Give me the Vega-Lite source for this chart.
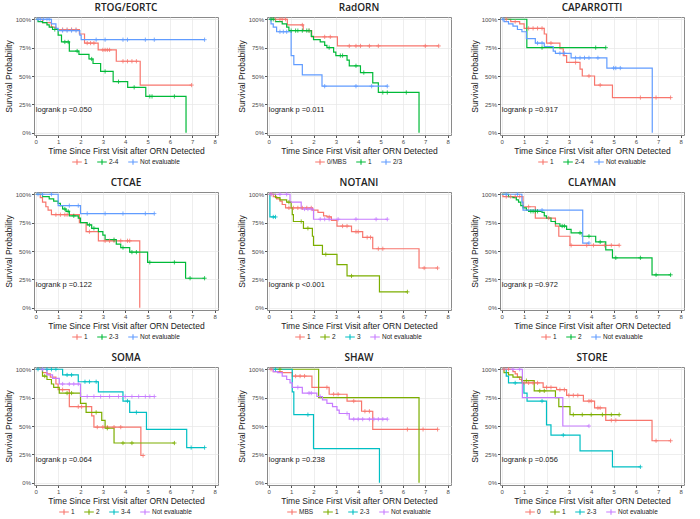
{
"$schema": "https://vega.github.io/schema/vega-lite/v6.json",
"padding": {"left": 3, "top": 2, "right": 2, "bottom": 0},
"spacing": 9,
"resolve": {"scale": {"color": "independent"}, "legend": {"color": "independent"}},
"datasets": {
"pv": [
{"p":1,"label":"logrank p =0.050"},{"p":2,"label":"logrank p =0.011"},{"p":3,"label":"logrank p =0.917"},
{"p":4,"label":"logrank p =0.122"},{"p":5,"label":"logrank p <0.001"},{"p":6,"label":"logrank p =0.972"},
{"p":7,"label":"logrank p =0.064"},{"p":8,"label":"logrank p =0.238"},{"p":9,"label":"logrank p =0.056"}
],
"km": [
{"p":1,"g":"1","t":0,"s":1},{"p":1,"g":"1","t":0.3,"s":0.97},{"p":1,"g":"1","t":0.7,"s":0.93},{"p":1,"g":"1","t":0.9,"s":0.91},{"p":1,"g":"1","t":1.2,"s":0.91,"c":1},{"p":1,"g":"1","t":1.4,"s":0.91,"c":1},{"p":1,"g":"1","t":1.6,"s":0.91,"c":1},{"p":1,"g":"1","t":1.8,"s":0.91,"c":1},{"p":1,"g":"1","t":1.95,"s":0.87},{"p":1,"g":"1","t":2.18,"s":0.79},{"p":1,"g":"1","t":2.3,"s":0.79,"c":1},{"p":1,"g":"1","t":2.45,"s":0.79,"c":1},{"p":1,"g":"1","t":2.6,"s":0.79,"c":1},{"p":1,"g":"1","t":2.79,"s":0.73},{"p":1,"g":"1","t":3.0,"s":0.73,"c":1},{"p":1,"g":"1","t":3.1,"s":0.73,"c":1},{"p":1,"g":"1","t":3.2,"s":0.73,"c":1},{"p":1,"g":"1","t":3.3,"s":0.73,"c":1},{"p":1,"g":"1","t":3.6,"s":0.63},{"p":1,"g":"1","t":3.9,"s":0.63,"c":1},{"p":1,"g":"1","t":4.1,"s":0.63,"c":1},{"p":1,"g":"1","t":4.3,"s":0.63,"c":1},{"p":1,"g":"1","t":4.5,"s":0.63,"c":1},{"p":1,"g":"1","t":4.67,"s":0.42},{"p":1,"g":"1","t":6.97,"s":0.42,"c":1},
{"p":1,"g":"2-4","t":0,"s":1},{"p":1,"g":"2-4","t":0.1,"s":0.98},{"p":1,"g":"2-4","t":0.3,"s":0.97},{"p":1,"g":"2-4","t":0.5,"s":0.95},{"p":1,"g":"2-4","t":0.6,"s":0.93},{"p":1,"g":"2-4","t":0.75,"s":0.91},{"p":1,"g":"2-4","t":0.85,"s":0.91,"c":1},{"p":1,"g":"2-4","t":1.0,"s":0.86},{"p":1,"g":"2-4","t":1.15,"s":0.8},{"p":1,"g":"2-4","t":1.3,"s":0.8,"c":1},{"p":1,"g":"2-4","t":1.45,"s":0.8,"c":1},{"p":1,"g":"2-4","t":1.5,"s":0.72},{"p":1,"g":"2-4","t":1.85,"s":0.72,"c":1},{"p":1,"g":"2-4","t":1.93,"s":0.69},{"p":1,"g":"2-4","t":2.38,"s":0.65},{"p":1,"g":"2-4","t":2.5,"s":0.65,"c":1},{"p":1,"g":"2-4","t":2.56,"s":0.61},{"p":1,"g":"2-4","t":2.9,"s":0.54},{"p":1,"g":"2-4","t":3.1,"s":0.54,"c":1},{"p":1,"g":"2-4","t":3.46,"s":0.45},{"p":1,"g":"2-4","t":3.7,"s":0.45,"c":1},{"p":1,"g":"2-4","t":4.11,"s":0.4},{"p":1,"g":"2-4","t":4.4,"s":0.4,"c":1},{"p":1,"g":"2-4","t":4.92,"s":0.32},{"p":1,"g":"2-4","t":5.1,"s":0.32,"c":1},{"p":1,"g":"2-4","t":5.2,"s":0.32,"c":1},{"p":1,"g":"2-4","t":6.2,"s":0.32,"c":1},{"p":1,"g":"2-4","t":6.72,"s":0},
{"p":1,"g":"Not evaluable","t":0,"s":1},{"p":1,"g":"Not evaluable","t":0.1,"s":1,"c":1},{"p":1,"g":"Not evaluable","t":0.2,"s":1,"c":1},{"p":1,"g":"Not evaluable","t":0.35,"s":1,"c":1},{"p":1,"g":"Not evaluable","t":0.5,"s":1,"c":1},{"p":1,"g":"Not evaluable","t":0.6,"s":1,"c":1},{"p":1,"g":"Not evaluable","t":0.7,"s":0.96},{"p":1,"g":"Not evaluable","t":0.9,"s":0.92},{"p":1,"g":"Not evaluable","t":1.0,"s":0.9},{"p":1,"g":"Not evaluable","t":1.2,"s":0.9,"c":1},{"p":1,"g":"Not evaluable","t":1.4,"s":0.9,"c":1},{"p":1,"g":"Not evaluable","t":1.6,"s":0.9,"c":1},{"p":1,"g":"Not evaluable","t":1.8,"s":0.9,"c":1},{"p":1,"g":"Not evaluable","t":1.97,"s":0.86},{"p":1,"g":"Not evaluable","t":2.03,"s":0.82},{"p":1,"g":"Not evaluable","t":2.7,"s":0.82,"c":1},{"p":1,"g":"Not evaluable","t":3.1,"s":0.82,"c":1},{"p":1,"g":"Not evaluable","t":3.9,"s":0.82,"c":1},{"p":1,"g":"Not evaluable","t":4.1,"s":0.82,"c":1},{"p":1,"g":"Not evaluable","t":4.9,"s":0.82,"c":1},{"p":1,"g":"Not evaluable","t":5.3,"s":0.82,"c":1},{"p":1,"g":"Not evaluable","t":7.55,"s":0.82,"c":1},

{"p":2,"g":"0/MBS","t":0,"s":1},{"p":2,"g":"0/MBS","t":0.3,"s":1,"c":1},{"p":2,"g":"0/MBS","t":0.5,"s":1,"c":1},{"p":2,"g":"0/MBS","t":0.6,"s":1,"c":1},{"p":2,"g":"0/MBS","t":0.75,"s":1,"c":1},{"p":2,"g":"0/MBS","t":0.83,"s":0.95},{"p":2,"g":"0/MBS","t":1.5,"s":0.95,"c":1},{"p":2,"g":"0/MBS","t":1.54,"s":0.9},{"p":2,"g":"0/MBS","t":1.8,"s":0.9,"c":1},{"p":2,"g":"0/MBS","t":1.92,"s":0.845},{"p":2,"g":"0/MBS","t":2.5,"s":0.845,"c":1},{"p":2,"g":"0/MBS","t":2.75,"s":0.845,"c":1},{"p":2,"g":"0/MBS","t":3.07,"s":0.765},{"p":2,"g":"0/MBS","t":3.6,"s":0.765,"c":1},{"p":2,"g":"0/MBS","t":3.9,"s":0.765,"c":1},{"p":2,"g":"0/MBS","t":4.1,"s":0.765,"c":1},{"p":2,"g":"0/MBS","t":4.5,"s":0.765,"c":1},{"p":2,"g":"0/MBS","t":4.9,"s":0.765,"c":1},{"p":2,"g":"0/MBS","t":7.0,"s":0.765,"c":1},{"p":2,"g":"0/MBS","t":7.6,"s":0.765,"c":1},
{"p":2,"g":"1","t":0,"s":1},{"p":2,"g":"1","t":0.1,"s":1,"c":1},{"p":2,"g":"1","t":0.2,"s":1,"c":1},{"p":2,"g":"1","t":0.3,"s":0.98},{"p":2,"g":"1","t":0.6,"s":0.96},{"p":2,"g":"1","t":0.8,"s":0.93},{"p":2,"g":"1","t":0.9,"s":0.9},{"p":2,"g":"1","t":1.0,"s":0.9,"c":1},{"p":2,"g":"1","t":1.2,"s":0.9,"c":1},{"p":2,"g":"1","t":1.3,"s":0.9,"c":1},{"p":2,"g":"1","t":1.5,"s":0.9,"c":1},{"p":2,"g":"1","t":1.7,"s":0.9,"c":1},{"p":2,"g":"1","t":1.8,"s":0.9,"c":1},{"p":2,"g":"1","t":1.9,"s":0.85},{"p":2,"g":"1","t":2.0,"s":0.82},{"p":2,"g":"1","t":2.3,"s":0.8},{"p":2,"g":"1","t":2.5,"s":0.77},{"p":2,"g":"1","t":2.6,"s":0.75},{"p":2,"g":"1","t":2.7,"s":0.75,"c":1},{"p":2,"g":"1","t":2.9,"s":0.71},{"p":2,"g":"1","t":3.0,"s":0.68},{"p":2,"g":"1","t":3.2,"s":0.68,"c":1},{"p":2,"g":"1","t":3.3,"s":0.68,"c":1},{"p":2,"g":"1","t":3.5,"s":0.64},{"p":2,"g":"1","t":3.6,"s":0.59},{"p":2,"g":"1","t":3.9,"s":0.59,"c":1},{"p":2,"g":"1","t":4.1,"s":0.53},{"p":2,"g":"1","t":4.25,"s":0.53,"c":1},{"p":2,"g":"1","t":4.65,"s":0.44},{"p":2,"g":"1","t":4.9,"s":0.355},{"p":2,"g":"1","t":5.1,"s":0.355,"c":1},{"p":2,"g":"1","t":5.3,"s":0.355,"c":1},{"p":2,"g":"1","t":6.15,"s":0.355,"c":1},{"p":2,"g":"1","t":6.72,"s":0},
{"p":2,"g":"2/3","t":0,"s":1},{"p":2,"g":"2/3","t":0.1,"s":0.96},{"p":2,"g":"2/3","t":0.2,"s":0.93},{"p":2,"g":"2/3","t":0.35,"s":0.89},{"p":2,"g":"2/3","t":0.5,"s":0.89,"c":1},{"p":2,"g":"2/3","t":0.65,"s":0.89,"c":1},{"p":2,"g":"2/3","t":0.8,"s":0.89,"c":1},{"p":2,"g":"2/3","t":1.0,"s":0.68},{"p":2,"g":"2/3","t":1.12,"s":0.6},{"p":2,"g":"2/3","t":1.5,"s":0.51},{"p":2,"g":"2/3","t":2.38,"s":0.41},{"p":2,"g":"2/3","t":2.5,"s":0.41,"c":1},{"p":2,"g":"2/3","t":3.9,"s":0.41,"c":1},{"p":2,"g":"2/3","t":4.6,"s":0.41,"c":1},{"p":2,"g":"2/3","t":5.3,"s":0.41,"c":1},

{"p":3,"g":"1","t":0,"s":1},{"p":3,"g":"1","t":0.2,"s":1,"c":1},{"p":3,"g":"1","t":0.4,"s":0.98},{"p":3,"g":"1","t":0.6,"s":0.98,"c":1},{"p":3,"g":"1","t":0.8,"s":0.96},{"p":3,"g":"1","t":1.0,"s":0.92},{"p":3,"g":"1","t":1.2,"s":0.92,"c":1},{"p":3,"g":"1","t":1.4,"s":0.92,"c":1},{"p":3,"g":"1","t":1.6,"s":0.92,"c":1},{"p":3,"g":"1","t":1.8,"s":0.92,"c":1},{"p":3,"g":"1","t":1.9,"s":0.87},{"p":3,"g":"1","t":2.0,"s":0.79},{"p":3,"g":"1","t":2.2,"s":0.79,"c":1},{"p":3,"g":"1","t":2.6,"s":0.74},{"p":3,"g":"1","t":2.75,"s":0.68},{"p":3,"g":"1","t":2.9,"s":0.62},{"p":3,"g":"1","t":3.3,"s":0.62,"c":1},{"p":3,"g":"1","t":3.5,"s":0.56},{"p":3,"g":"1","t":3.6,"s":0.5},{"p":3,"g":"1","t":3.9,"s":0.5,"c":1},{"p":3,"g":"1","t":4.15,"s":0.42},{"p":3,"g":"1","t":4.4,"s":0.42,"c":1},{"p":3,"g":"1","t":4.95,"s":0.31},{"p":3,"g":"1","t":6.2,"s":0.31,"c":1},{"p":3,"g":"1","t":6.9,"s":0.31,"c":1},{"p":3,"g":"1","t":7.55,"s":0.31,"c":1},
{"p":3,"g":"2-4","t":0,"s":1},{"p":3,"g":"2-4","t":1.12,"s":0.75},{"p":3,"g":"2-4","t":1.8,"s":0.75,"c":1},{"p":3,"g":"2-4","t":4.2,"s":0.75,"c":1},{"p":3,"g":"2-4","t":4.65,"s":0.75,"c":1},
{"p":3,"g":"Not evaluable","t":0,"s":1},{"p":3,"g":"Not evaluable","t":0.05,"s":1,"c":1},{"p":3,"g":"Not evaluable","t":0.1,"s":0.98},{"p":3,"g":"Not evaluable","t":0.3,"s":0.96},{"p":3,"g":"Not evaluable","t":0.5,"s":0.94},{"p":3,"g":"Not evaluable","t":0.7,"s":0.91},{"p":3,"g":"Not evaluable","t":0.9,"s":0.89},{"p":3,"g":"Not evaluable","t":1.1,"s":0.83},{"p":3,"g":"Not evaluable","t":1.5,"s":0.79},{"p":3,"g":"Not evaluable","t":1.6,"s":0.79,"c":1},{"p":3,"g":"Not evaluable","t":1.8,"s":0.79,"c":1},{"p":3,"g":"Not evaluable","t":1.9,"s":0.76},{"p":3,"g":"Not evaluable","t":2.3,"s":0.72},{"p":3,"g":"Not evaluable","t":2.4,"s":0.7},{"p":3,"g":"Not evaluable","t":2.6,"s":0.7,"c":1},{"p":3,"g":"Not evaluable","t":2.8,"s":0.7,"c":1},{"p":3,"g":"Not evaluable","t":3.1,"s":0.66},{"p":3,"g":"Not evaluable","t":3.3,"s":0.66,"c":1},{"p":3,"g":"Not evaluable","t":3.5,"s":0.66,"c":1},{"p":3,"g":"Not evaluable","t":3.7,"s":0.66,"c":1},{"p":3,"g":"Not evaluable","t":3.9,"s":0.66,"c":1},{"p":3,"g":"Not evaluable","t":4.3,"s":0.66,"c":1},{"p":3,"g":"Not evaluable","t":4.7,"s":0.57},{"p":3,"g":"Not evaluable","t":5.0,"s":0.57,"c":1},{"p":3,"g":"Not evaluable","t":5.1,"s":0.57,"c":1},{"p":3,"g":"Not evaluable","t":5.3,"s":0.57,"c":1},{"p":3,"g":"Not evaluable","t":6.73,"s":0},

{"p":4,"g":"1","t":0,"s":1},{"p":4,"g":"1","t":0.2,"s":0.97},{"p":4,"g":"1","t":0.3,"s":0.93},{"p":4,"g":"1","t":0.45,"s":0.89},{"p":4,"g":"1","t":0.55,"s":0.86},{"p":4,"g":"1","t":0.7,"s":0.82},{"p":4,"g":"1","t":0.9,"s":0.82,"c":1},{"p":4,"g":"1","t":1.1,"s":0.82,"c":1},{"p":4,"g":"1","t":1.3,"s":0.82,"c":1},{"p":4,"g":"1","t":1.4,"s":0.82,"c":1},{"p":4,"g":"1","t":1.95,"s":0.75},{"p":4,"g":"1","t":2.25,"s":0.67},{"p":4,"g":"1","t":2.4,"s":0.67,"c":1},{"p":4,"g":"1","t":2.8,"s":0.59},{"p":4,"g":"1","t":3.1,"s":0.59,"c":1},{"p":4,"g":"1","t":3.3,"s":0.59,"c":1},{"p":4,"g":"1","t":3.5,"s":0.59,"c":1},{"p":4,"g":"1","t":3.8,"s":0.59,"c":1},{"p":4,"g":"1","t":4.1,"s":0.59,"c":1},{"p":4,"g":"1","t":4.2,"s":0.59,"c":1},{"p":4,"g":"1","t":4.65,"s":0},
{"p":4,"g":"2-3","t":0,"s":1},{"p":4,"g":"2-3","t":0.3,"s":0.98},{"p":4,"g":"2-3","t":0.6,"s":0.96},{"p":4,"g":"2-3","t":0.8,"s":0.94},{"p":4,"g":"2-3","t":1.0,"s":0.92},{"p":4,"g":"2-3","t":1.1,"s":0.9},{"p":4,"g":"2-3","t":1.2,"s":0.87},{"p":4,"g":"2-3","t":1.3,"s":0.87,"c":1},{"p":4,"g":"2-3","t":1.35,"s":0.85},{"p":4,"g":"2-3","t":1.45,"s":0.85,"c":1},{"p":4,"g":"2-3","t":1.5,"s":0.81},{"p":4,"g":"2-3","t":1.7,"s":0.81,"c":1},{"p":4,"g":"2-3","t":1.9,"s":0.79},{"p":4,"g":"2-3","t":2.0,"s":0.75},{"p":4,"g":"2-3","t":2.3,"s":0.73},{"p":4,"g":"2-3","t":2.4,"s":0.73,"c":1},{"p":4,"g":"2-3","t":2.5,"s":0.7},{"p":4,"g":"2-3","t":2.6,"s":0.7,"c":1},{"p":4,"g":"2-3","t":2.8,"s":0.67},{"p":4,"g":"2-3","t":3.0,"s":0.64},{"p":4,"g":"2-3","t":3.1,"s":0.6},{"p":4,"g":"2-3","t":3.5,"s":0.6,"c":1},{"p":4,"g":"2-3","t":3.6,"s":0.56},{"p":4,"g":"2-3","t":3.8,"s":0.53},{"p":4,"g":"2-3","t":3.9,"s":0.53,"c":1},{"p":4,"g":"2-3","t":4.2,"s":0.49},{"p":4,"g":"2-3","t":4.3,"s":0.49,"c":1},{"p":4,"g":"2-3","t":4.5,"s":0.49,"c":1},{"p":4,"g":"2-3","t":5.0,"s":0.4},{"p":4,"g":"2-3","t":5.1,"s":0.4,"c":1},{"p":4,"g":"2-3","t":6.2,"s":0.4,"c":1},{"p":4,"g":"2-3","t":6.7,"s":0.26},{"p":4,"g":"2-3","t":6.9,"s":0.26,"c":1},{"p":4,"g":"2-3","t":7.55,"s":0.26,"c":1},
{"p":4,"g":"Not evaluable","t":0,"s":1},{"p":4,"g":"Not evaluable","t":0.1,"s":1,"c":1},{"p":4,"g":"Not evaluable","t":0.3,"s":1,"c":1},{"p":4,"g":"Not evaluable","t":0.7,"s":1,"c":1},{"p":4,"g":"Not evaluable","t":1.0,"s":0.9},{"p":4,"g":"Not evaluable","t":1.5,"s":0.9,"c":1},{"p":4,"g":"Not evaluable","t":1.9,"s":0.9,"c":1},{"p":4,"g":"Not evaluable","t":2.0,"s":0.83},{"p":4,"g":"Not evaluable","t":2.3,"s":0.83,"c":1},{"p":4,"g":"Not evaluable","t":3.1,"s":0.83,"c":1},{"p":4,"g":"Not evaluable","t":3.9,"s":0.83,"c":1},{"p":4,"g":"Not evaluable","t":4.9,"s":0.83,"c":1},{"p":4,"g":"Not evaluable","t":5.3,"s":0.83,"c":1},

{"p":5,"g":"1","t":0,"s":1},{"p":5,"g":"1","t":0.1,"s":1,"c":1},{"p":5,"g":"1","t":0.2,"s":0.98},{"p":5,"g":"1","t":0.35,"s":0.96},{"p":5,"g":"1","t":0.5,"s":0.94},{"p":5,"g":"1","t":0.6,"s":0.91},{"p":5,"g":"1","t":0.75,"s":0.88},{"p":5,"g":"1","t":0.9,"s":0.88,"c":1},{"p":5,"g":"1","t":1.1,"s":0.88,"c":1},{"p":5,"g":"1","t":1.3,"s":0.88,"c":1},{"p":5,"g":"1","t":1.5,"s":0.88,"c":1},{"p":5,"g":"1","t":1.7,"s":0.88,"c":1},{"p":5,"g":"1","t":1.9,"s":0.88,"c":1},{"p":5,"g":"1","t":1.95,"s":0.86},{"p":5,"g":"1","t":2.2,"s":0.84},{"p":5,"g":"1","t":2.45,"s":0.81},{"p":5,"g":"1","t":2.6,"s":0.8},{"p":5,"g":"1","t":2.7,"s":0.8,"c":1},{"p":5,"g":"1","t":2.8,"s":0.77},{"p":5,"g":"1","t":3.05,"s":0.72},{"p":5,"g":"1","t":3.3,"s":0.72,"c":1},{"p":5,"g":"1","t":3.5,"s":0.72,"c":1},{"p":5,"g":"1","t":3.7,"s":0.67},{"p":5,"g":"1","t":3.9,"s":0.67,"c":1},{"p":5,"g":"1","t":4.0,"s":0.67,"c":1},{"p":5,"g":"1","t":4.2,"s":0.62},{"p":5,"g":"1","t":4.4,"s":0.62,"c":1},{"p":5,"g":"1","t":4.55,"s":0.62,"c":1},{"p":5,"g":"1","t":4.65,"s":0.52},{"p":5,"g":"1","t":4.9,"s":0.52,"c":1},{"p":5,"g":"1","t":5.1,"s":0.52,"c":1},{"p":5,"g":"1","t":6.72,"s":0.35},{"p":5,"g":"1","t":6.95,"s":0.35,"c":1},{"p":5,"g":"1","t":7.55,"s":0.35,"c":1},
{"p":5,"g":"2","t":0,"s":1},{"p":5,"g":"2","t":0.3,"s":0.97},{"p":5,"g":"2","t":0.5,"s":0.95},{"p":5,"g":"2","t":0.8,"s":0.93},{"p":5,"g":"2","t":0.9,"s":0.93,"c":1},{"p":5,"g":"2","t":1.0,"s":0.88},{"p":5,"g":"2","t":1.05,"s":0.82},{"p":5,"g":"2","t":1.1,"s":0.76},{"p":5,"g":"2","t":1.45,"s":0.76,"c":1},{"p":5,"g":"2","t":1.55,"s":0.7},{"p":5,"g":"2","t":1.75,"s":0.7,"c":1},{"p":5,"g":"2","t":1.95,"s":0.63},{"p":5,"g":"2","t":2.0,"s":0.55},{"p":5,"g":"2","t":2.4,"s":0.47},{"p":5,"g":"2","t":2.55,"s":0.47,"c":1},{"p":5,"g":"2","t":3.05,"s":0.38},{"p":5,"g":"2","t":3.5,"s":0.28},{"p":5,"g":"2","t":3.7,"s":0.28,"c":1},{"p":5,"g":"2","t":4.95,"s":0.14},{"p":5,"g":"2","t":6.2,"s":0.14,"c":1},
{"p":5,"g":"3","t":0,"s":1},{"p":5,"g":"3","t":0.05,"s":0.8},{"p":5,"g":"3","t":0.2,"s":0.8,"c":1},{"p":5,"g":"3","t":0.3,"s":0.8,"c":1},
{"p":5,"g":"Not evaluable","t":0,"s":1},{"p":5,"g":"Not evaluable","t":0.1,"s":1,"c":1},{"p":5,"g":"Not evaluable","t":0.5,"s":1,"c":1},{"p":5,"g":"Not evaluable","t":0.8,"s":1,"c":1},{"p":5,"g":"Not evaluable","t":0.95,"s":0.93},{"p":5,"g":"Not evaluable","t":1.45,"s":0.87},{"p":5,"g":"Not evaluable","t":1.6,"s":0.87,"c":1},{"p":5,"g":"Not evaluable","t":1.75,"s":0.87,"c":1},{"p":5,"g":"Not evaluable","t":1.9,"s":0.87,"c":1},{"p":5,"g":"Not evaluable","t":2.0,"s":0.78},{"p":5,"g":"Not evaluable","t":2.3,"s":0.78,"c":1},{"p":5,"g":"Not evaluable","t":2.5,"s":0.78,"c":1},{"p":5,"g":"Not evaluable","t":2.7,"s":0.78,"c":1},{"p":5,"g":"Not evaluable","t":3.1,"s":0.78,"c":1},{"p":5,"g":"Not evaluable","t":3.9,"s":0.78,"c":1},{"p":5,"g":"Not evaluable","t":4.8,"s":0.78,"c":1},{"p":5,"g":"Not evaluable","t":5.3,"s":0.78,"c":1},

{"p":6,"g":"1","t":0,"s":1},{"p":6,"g":"1","t":0.05,"s":0.98},{"p":6,"g":"1","t":0.2,"s":0.98,"c":1},{"p":6,"g":"1","t":0.4,"s":0.98,"c":1},{"p":6,"g":"1","t":0.6,"s":0.98,"c":1},{"p":6,"g":"1","t":0.8,"s":0.98,"c":1},{"p":6,"g":"1","t":0.95,"s":0.89},{"p":6,"g":"1","t":1.2,"s":0.89,"c":1},{"p":6,"g":"1","t":1.5,"s":0.79},{"p":6,"g":"1","t":2.1,"s":0.79,"c":1},{"p":6,"g":"1","t":2.4,"s":0.72},{"p":6,"g":"1","t":2.55,"s":0.63},{"p":6,"g":"1","t":3.05,"s":0.55},{"p":6,"g":"1","t":3.1,"s":0.55,"c":1},{"p":6,"g":"1","t":3.8,"s":0.55,"c":1},{"p":6,"g":"1","t":4.1,"s":0.55,"c":1},{"p":6,"g":"1","t":4.6,"s":0.55,"c":1},{"p":6,"g":"1","t":4.9,"s":0.55,"c":1},{"p":6,"g":"1","t":5.25,"s":0.55,"c":1},
{"p":6,"g":"2","t":0,"s":1},{"p":6,"g":"2","t":0.3,"s":0.98},{"p":6,"g":"2","t":0.5,"s":0.97},{"p":6,"g":"2","t":0.65,"s":0.95},{"p":6,"g":"2","t":0.75,"s":0.93},{"p":6,"g":"2","t":0.85,"s":0.9},{"p":6,"g":"2","t":0.95,"s":0.88},{"p":6,"g":"2","t":1.1,"s":0.86},{"p":6,"g":"2","t":1.2,"s":0.85},{"p":6,"g":"2","t":1.3,"s":0.85,"c":1},{"p":6,"g":"2","t":1.4,"s":0.85,"c":1},{"p":6,"g":"2","t":1.5,"s":0.85,"c":1},{"p":6,"g":"2","t":1.6,"s":0.85,"c":1},{"p":6,"g":"2","t":1.8,"s":0.84},{"p":6,"g":"2","t":1.9,"s":0.81},{"p":6,"g":"2","t":2.0,"s":0.79},{"p":6,"g":"2","t":2.2,"s":0.76},{"p":6,"g":"2","t":2.4,"s":0.74},{"p":6,"g":"2","t":2.6,"s":0.72},{"p":6,"g":"2","t":2.7,"s":0.72,"c":1},{"p":6,"g":"2","t":2.8,"s":0.72,"c":1},{"p":6,"g":"2","t":2.9,"s":0.69},{"p":6,"g":"2","t":3.1,"s":0.66},{"p":6,"g":"2","t":3.5,"s":0.66,"c":1},{"p":6,"g":"2","t":3.6,"s":0.63},{"p":6,"g":"2","t":3.9,"s":0.63,"c":1},{"p":6,"g":"2","t":4.2,"s":0.58},{"p":6,"g":"2","t":4.4,"s":0.58,"c":1},{"p":6,"g":"2","t":4.65,"s":0.51},{"p":6,"g":"2","t":4.95,"s":0.44},{"p":6,"g":"2","t":5.1,"s":0.44,"c":1},{"p":6,"g":"2","t":6.2,"s":0.44,"c":1},{"p":6,"g":"2","t":6.72,"s":0.29},{"p":6,"g":"2","t":6.9,"s":0.29,"c":1},{"p":6,"g":"2","t":7.55,"s":0.29,"c":1},
{"p":6,"g":"Not evaluable","t":0,"s":1},{"p":6,"g":"Not evaluable","t":0.2,"s":1,"c":1},{"p":6,"g":"Not evaluable","t":0.7,"s":1,"c":1},{"p":6,"g":"Not evaluable","t":0.9,"s":0.93},{"p":6,"g":"Not evaluable","t":0.95,"s":0.86},{"p":6,"g":"Not evaluable","t":1.8,"s":0.86,"c":1},{"p":6,"g":"Not evaluable","t":3.62,"s":0.57},{"p":6,"g":"Not evaluable","t":3.9,"s":0.57,"c":1},

{"p":7,"g":"1","t":0,"s":1},{"p":7,"g":"1","t":0.3,"s":0.97},{"p":7,"g":"1","t":0.5,"s":0.96},{"p":7,"g":"1","t":0.65,"s":0.93},{"p":7,"g":"1","t":0.9,"s":0.87},{"p":7,"g":"1","t":1.0,"s":0.82},{"p":7,"g":"1","t":1.2,"s":0.82,"c":1},{"p":7,"g":"1","t":1.5,"s":0.67},{"p":7,"g":"1","t":1.9,"s":0.67,"c":1},{"p":7,"g":"1","t":2.05,"s":0.67,"c":1},{"p":7,"g":"1","t":2.5,"s":0.59},{"p":7,"g":"1","t":2.6,"s":0.49},{"p":7,"g":"1","t":2.75,"s":0.49,"c":1},{"p":7,"g":"1","t":3.0,"s":0.49,"c":1},{"p":7,"g":"1","t":3.2,"s":0.49,"c":1},{"p":7,"g":"1","t":3.5,"s":0.49,"c":1},{"p":7,"g":"1","t":3.8,"s":0.49,"c":1},{"p":7,"g":"1","t":4.7,"s":0.24},{"p":7,"g":"1","t":4.8,"s":0.24,"c":1},
{"p":7,"g":"2","t":0,"s":1},{"p":7,"g":"2","t":0.3,"s":0.94},{"p":7,"g":"2","t":0.4,"s":0.94,"c":1},{"p":7,"g":"2","t":0.5,"s":0.91},{"p":7,"g":"2","t":0.7,"s":0.87},{"p":7,"g":"2","t":0.8,"s":0.84},{"p":7,"g":"2","t":1.05,"s":0.79},{"p":7,"g":"2","t":1.4,"s":0.79,"c":1},{"p":7,"g":"2","t":1.6,"s":0.79,"c":1},{"p":7,"g":"2","t":2.0,"s":0.7},{"p":7,"g":"2","t":2.25,"s":0.62},{"p":7,"g":"2","t":2.7,"s":0.62,"c":1},{"p":7,"g":"2","t":2.95,"s":0.55},{"p":7,"g":"2","t":3.1,"s":0.48},{"p":7,"g":"2","t":3.2,"s":0.48,"c":1},{"p":7,"g":"2","t":3.5,"s":0.35},{"p":7,"g":"2","t":3.9,"s":0.35,"c":1},{"p":7,"g":"2","t":4.3,"s":0.35,"c":1},{"p":7,"g":"2","t":6.2,"s":0.35,"c":1},
{"p":7,"g":"3-4","t":0,"s":1},{"p":7,"g":"3-4","t":0.1,"s":1,"c":1},{"p":7,"g":"3-4","t":0.3,"s":1,"c":1},{"p":7,"g":"3-4","t":0.5,"s":1,"c":1},{"p":7,"g":"3-4","t":0.7,"s":1,"c":1},{"p":7,"g":"3-4","t":0.9,"s":1,"c":1},{"p":7,"g":"3-4","t":1.2,"s":0.95},{"p":7,"g":"3-4","t":1.4,"s":0.95,"c":1},{"p":7,"g":"3-4","t":1.6,"s":0.95,"c":1},{"p":7,"g":"3-4","t":1.9,"s":0.89},{"p":7,"g":"3-4","t":2.2,"s":0.89,"c":1},{"p":7,"g":"3-4","t":2.4,"s":0.89,"c":1},{"p":7,"g":"3-4","t":2.7,"s":0.89,"c":1},{"p":7,"g":"3-4","t":2.8,"s":0.8},{"p":7,"g":"3-4","t":3.9,"s":0.72},{"p":7,"g":"3-4","t":4.1,"s":0.72,"c":1},{"p":7,"g":"3-4","t":4.2,"s":0.62},{"p":7,"g":"3-4","t":4.5,"s":0.62,"c":1},{"p":7,"g":"3-4","t":4.95,"s":0.47},{"p":7,"g":"3-4","t":6.75,"s":0.31},{"p":7,"g":"3-4","t":6.95,"s":0.31,"c":1},{"p":7,"g":"3-4","t":7.55,"s":0.31,"c":1},
{"p":7,"g":"Not evaluable","t":0,"s":1},{"p":7,"g":"Not evaluable","t":0.3,"s":1,"c":1},{"p":7,"g":"Not evaluable","t":0.5,"s":0.95},{"p":7,"g":"Not evaluable","t":0.75,"s":0.92},{"p":7,"g":"Not evaluable","t":1.05,"s":0.87},{"p":7,"g":"Not evaluable","t":1.2,"s":0.87,"c":1},{"p":7,"g":"Not evaluable","t":1.5,"s":0.87,"c":1},{"p":7,"g":"Not evaluable","t":1.7,"s":0.87,"c":1},{"p":7,"g":"Not evaluable","t":1.9,"s":0.87,"c":1},{"p":7,"g":"Not evaluable","t":2.0,"s":0.76},{"p":7,"g":"Not evaluable","t":2.3,"s":0.76,"c":1},{"p":7,"g":"Not evaluable","t":2.6,"s":0.76,"c":1},{"p":7,"g":"Not evaluable","t":2.9,"s":0.76,"c":1},{"p":7,"g":"Not evaluable","t":3.3,"s":0.76,"c":1},{"p":7,"g":"Not evaluable","t":3.7,"s":0.76,"c":1},{"p":7,"g":"Not evaluable","t":4.0,"s":0.76,"c":1},{"p":7,"g":"Not evaluable","t":4.3,"s":0.76,"c":1},{"p":7,"g":"Not evaluable","t":4.6,"s":0.76,"c":1},{"p":7,"g":"Not evaluable","t":4.9,"s":0.76,"c":1},{"p":7,"g":"Not evaluable","t":5.1,"s":0.76,"c":1},{"p":7,"g":"Not evaluable","t":5.3,"s":0.76,"c":1},

{"p":8,"g":"MBS","t":0,"s":1},{"p":8,"g":"MBS","t":0.1,"s":1,"c":1},{"p":8,"g":"MBS","t":0.2,"s":0.98},{"p":8,"g":"MBS","t":0.6,"s":0.97},{"p":8,"g":"MBS","t":1.05,"s":0.94},{"p":8,"g":"MBS","t":1.2,"s":0.94,"c":1},{"p":8,"g":"MBS","t":1.4,"s":0.94,"c":1},{"p":8,"g":"MBS","t":1.6,"s":0.94,"c":1},{"p":8,"g":"MBS","t":1.93,"s":0.84},{"p":8,"g":"MBS","t":2.6,"s":0.84,"c":1},{"p":8,"g":"MBS","t":2.7,"s":0.78},{"p":8,"g":"MBS","t":2.9,"s":0.78,"c":1},{"p":8,"g":"MBS","t":3.1,"s":0.78,"c":1},{"p":8,"g":"MBS","t":3.5,"s":0.72},{"p":8,"g":"MBS","t":3.8,"s":0.72,"c":1},{"p":8,"g":"MBS","t":4.15,"s":0.63},{"p":8,"g":"MBS","t":4.3,"s":0.63,"c":1},{"p":8,"g":"MBS","t":4.5,"s":0.63,"c":1},{"p":8,"g":"MBS","t":4.65,"s":0.47},{"p":8,"g":"MBS","t":6.2,"s":0.47,"c":1},{"p":8,"g":"MBS","t":6.9,"s":0.47,"c":1},{"p":8,"g":"MBS","t":7.55,"s":0.47,"c":1},
{"p":8,"g":"1","t":0,"s":1},{"p":8,"g":"1","t":0.5,"s":1,"c":1},{"p":8,"g":"1","t":2.23,"s":0.75},{"p":8,"g":"1","t":6.72,"s":0},
{"p":8,"g":"2-3","t":0,"s":1},{"p":8,"g":"2-3","t":0.3,"s":1,"c":1},{"p":8,"g":"2-3","t":1.05,"s":0.8},{"p":8,"g":"2-3","t":1.12,"s":0.6},{"p":8,"g":"2-3","t":1.75,"s":0.6,"c":1},{"p":8,"g":"2-3","t":2.0,"s":0.3},{"p":8,"g":"2-3","t":4.95,"s":0},
{"p":8,"g":"Not evaluable","t":0,"s":1},{"p":8,"g":"Not evaluable","t":0.2,"s":0.98},{"p":8,"g":"Not evaluable","t":0.4,"s":0.97},{"p":8,"g":"Not evaluable","t":0.6,"s":0.94},{"p":8,"g":"Not evaluable","t":0.8,"s":0.91},{"p":8,"g":"Not evaluable","t":0.95,"s":0.88},{"p":8,"g":"Not evaluable","t":1.05,"s":0.84},{"p":8,"g":"Not evaluable","t":1.3,"s":0.84,"c":1},{"p":8,"g":"Not evaluable","t":1.5,"s":0.79},{"p":8,"g":"Not evaluable","t":1.8,"s":0.79,"c":1},{"p":8,"g":"Not evaluable","t":1.9,"s":0.79,"c":1},{"p":8,"g":"Not evaluable","t":2.15,"s":0.76},{"p":8,"g":"Not evaluable","t":2.3,"s":0.76,"c":1},{"p":8,"g":"Not evaluable","t":2.4,"s":0.73},{"p":8,"g":"Not evaluable","t":2.6,"s":0.7},{"p":8,"g":"Not evaluable","t":2.85,"s":0.67},{"p":8,"g":"Not evaluable","t":3.05,"s":0.64},{"p":8,"g":"Not evaluable","t":3.15,"s":0.61},{"p":8,"g":"Not evaluable","t":3.5,"s":0.61,"c":1},{"p":8,"g":"Not evaluable","t":3.6,"s":0.56},{"p":8,"g":"Not evaluable","t":3.8,"s":0.56,"c":1},{"p":8,"g":"Not evaluable","t":4.0,"s":0.56,"c":1},{"p":8,"g":"Not evaluable","t":4.2,"s":0.56,"c":1},{"p":8,"g":"Not evaluable","t":4.5,"s":0.56,"c":1},{"p":8,"g":"Not evaluable","t":4.7,"s":0.56,"c":1},{"p":8,"g":"Not evaluable","t":4.9,"s":0.56,"c":1},{"p":8,"g":"Not evaluable","t":5.1,"s":0.56,"c":1},{"p":8,"g":"Not evaluable","t":5.3,"s":0.56,"c":1},

{"p":9,"g":"0","t":0,"s":1},{"p":9,"g":"0","t":0.1,"s":1,"c":1},{"p":9,"g":"0","t":0.3,"s":1,"c":1},{"p":9,"g":"0","t":0.5,"s":0.98},{"p":9,"g":"0","t":0.6,"s":0.96},{"p":9,"g":"0","t":0.7,"s":0.93},{"p":9,"g":"0","t":0.8,"s":0.91},{"p":9,"g":"0","t":0.9,"s":0.88},{"p":9,"g":"0","t":1.0,"s":0.88,"c":1},{"p":9,"g":"0","t":1.2,"s":0.88,"c":1},{"p":9,"g":"0","t":1.4,"s":0.88,"c":1},{"p":9,"g":"0","t":1.6,"s":0.88,"c":1},{"p":9,"g":"0","t":1.85,"s":0.84},{"p":9,"g":"0","t":2.0,"s":0.84,"c":1},{"p":9,"g":"0","t":2.2,"s":0.84,"c":1},{"p":9,"g":"0","t":2.45,"s":0.82},{"p":9,"g":"0","t":2.6,"s":0.82,"c":1},{"p":9,"g":"0","t":2.8,"s":0.82,"c":1},{"p":9,"g":"0","t":2.9,"s":0.77},{"p":9,"g":"0","t":3.0,"s":0.77,"c":1},{"p":9,"g":"0","t":3.2,"s":0.77,"c":1},{"p":9,"g":"0","t":3.4,"s":0.77,"c":1},{"p":9,"g":"0","t":3.65,"s":0.72},{"p":9,"g":"0","t":3.9,"s":0.72,"c":1},{"p":9,"g":"0","t":4.0,"s":0.72,"c":1},{"p":9,"g":"0","t":4.15,"s":0.66},{"p":9,"g":"0","t":4.3,"s":0.66,"c":1},{"p":9,"g":"0","t":4.4,"s":0.66,"c":1},{"p":9,"g":"0","t":4.65,"s":0.55},{"p":9,"g":"0","t":4.9,"s":0.55,"c":1},{"p":9,"g":"0","t":5.1,"s":0.55,"c":1},{"p":9,"g":"0","t":6.72,"s":0.37},{"p":9,"g":"0","t":6.9,"s":0.37,"c":1},{"p":9,"g":"0","t":7.55,"s":0.37,"c":1},
{"p":9,"g":"1","t":0,"s":1},{"p":9,"g":"1","t":0.1,"s":0.97},{"p":9,"g":"1","t":0.3,"s":0.95},{"p":9,"g":"1","t":0.5,"s":0.93},{"p":9,"g":"1","t":0.9,"s":0.9},{"p":9,"g":"1","t":1.1,"s":0.9,"c":1},{"p":9,"g":"1","t":1.45,"s":0.81},{"p":9,"g":"1","t":1.7,"s":0.81,"c":1},{"p":9,"g":"1","t":1.9,"s":0.81,"c":1},{"p":9,"g":"1","t":2.4,"s":0.75},{"p":9,"g":"1","t":2.55,"s":0.67},{"p":9,"g":"1","t":3.05,"s":0.6},{"p":9,"g":"1","t":3.2,"s":0.6,"c":1},{"p":9,"g":"1","t":3.6,"s":0.6,"c":1},{"p":9,"g":"1","t":4.0,"s":0.6,"c":1},{"p":9,"g":"1","t":4.5,"s":0.6,"c":1},{"p":9,"g":"1","t":4.9,"s":0.6,"c":1},{"p":9,"g":"1","t":5.25,"s":0.6,"c":1},
{"p":9,"g":"2-3","t":0,"s":1},{"p":9,"g":"2-3","t":0.2,"s":0.94},{"p":9,"g":"2-3","t":0.3,"s":0.88},{"p":9,"g":"2-3","t":0.6,"s":0.88,"c":1},{"p":9,"g":"2-3","t":0.99,"s":0.79},{"p":9,"g":"2-3","t":1.13,"s":0.72},{"p":9,"g":"2-3","t":1.8,"s":0.72,"c":1},{"p":9,"g":"2-3","t":2.0,"s":0.51},{"p":9,"g":"2-3","t":2.2,"s":0.42},{"p":9,"g":"2-3","t":2.75,"s":0.42,"c":1},{"p":9,"g":"2-3","t":3.5,"s":0.28},{"p":9,"g":"2-3","t":4.95,"s":0.14},{"p":9,"g":"2-3","t":6.2,"s":0.14,"c":1},
{"p":9,"g":"Not evaluable","t":0,"s":1},{"p":9,"g":"Not evaluable","t":0.5,"s":1,"c":1},{"p":9,"g":"Not evaluable","t":0.8,"s":1,"c":1},{"p":9,"g":"Not evaluable","t":0.92,"s":0.75},{"p":9,"g":"Not evaluable","t":2.73,"s":0.5},{"p":9,"g":"Not evaluable","t":3.9,"s":0.5,"c":1}
]
},
"vconcat": [
{"spacing": 17, "resolve": {"scale": {"color": "independent"}, "legend": {"color": "independent"}}, "hconcat": [
{"title": "RTOG/EORTC", "width": 184, "height": 118, "data": {"name": "km"}, "resolve": {"axis": {"x": "independent", "y": "independent"}}, "layer": [
 {"transform": [{"filter": "datum.p == 1"}], "mark": {"type": "line", "interpolate": "step-after", "strokeWidth": 1.2}, "encoding": {"x": {"field": "t", "type": "quantitative", "scale": {"domain": [-0.08, 8.15], "nice": false, "zero": false}, "axis": {"title": "Time Since First Visit after ORN Detected", "values": [0,1,2,3,4,5,6,7,8]}}, "y": {"field": "s", "type": "quantitative", "scale": {"domain": [-0.02, 1.02], "nice": false, "zero": false}, "axis": {"title": "Survival Probability", "values": [0,0.25,0.5,0.75,1], "format": ".0%"}}, "color": {"field": "g", "type": "nominal", "title": null, "scale": {"domain": ["1", "2-4", "Not evaluable"], "range": ["#F8766D", "#00BA38", "#619CFF"]}}}},
 {"transform": [{"filter": "datum.p == 1 && datum.c == 1"}], "mark": {"type": "point", "shape": "M-1,0H1M0,-1V1", "filled": false, "size": 18, "strokeWidth": 0.8, "opacity": 1}, "encoding": {"x": {"field": "t", "type": "quantitative", "axis": {"orient": "top", "values": [0.5,1.5,2.5,3.5,4.5,5.5,6.5,7.5], "labels": false, "ticks": false, "domain": false, "title": null, "gridColor": "#f3f3f3"}}, "y": {"field": "s", "type": "quantitative", "axis": {"orient": "right", "values": [0.125,0.375,0.625,0.875], "labels": false, "ticks": false, "domain": false, "title": null, "gridColor": "#f3f3f3"}}, "color": {"field": "g", "type": "nominal", "title": null}}},
 {"data": {"name": "pv"}, "transform": [{"filter": "datum.p == 1"}], "mark": {"type": "text", "align": "left", "baseline": "middle", "fontSize": 7.5, "color": "#222"}, "encoding": {"x": {"datum": 0, "axis": null}, "y": {"datum": 0.2, "axis": null}, "text": {"field": "label"}}}
]},
{"title": "RadORN", "width": 184, "height": 118, "data": {"name": "km"}, "resolve": {"axis": {"x": "independent", "y": "independent"}}, "layer": [
 {"transform": [{"filter": "datum.p == 2"}], "mark": {"type": "line", "interpolate": "step-after", "strokeWidth": 1.2}, "encoding": {"x": {"field": "t", "type": "quantitative", "scale": {"domain": [-0.08, 8.15], "nice": false, "zero": false}, "axis": {"title": "Time Since First Visit after ORN Detected", "values": [0,1,2,3,4,5,6,7,8]}}, "y": {"field": "s", "type": "quantitative", "scale": {"domain": [-0.02, 1.02], "nice": false, "zero": false}, "axis": {"title": "Survival Probability", "values": [0,0.25,0.5,0.75,1], "format": ".0%"}}, "color": {"field": "g", "type": "nominal", "title": null, "scale": {"domain": ["0/MBS", "1", "2/3"], "range": ["#F8766D", "#00BA38", "#619CFF"]}}}},
 {"transform": [{"filter": "datum.p == 2 && datum.c == 1"}], "mark": {"type": "point", "shape": "M-1,0H1M0,-1V1", "filled": false, "size": 18, "strokeWidth": 0.8, "opacity": 1}, "encoding": {"x": {"field": "t", "type": "quantitative", "axis": {"orient": "top", "values": [0.5,1.5,2.5,3.5,4.5,5.5,6.5,7.5], "labels": false, "ticks": false, "domain": false, "title": null, "gridColor": "#f3f3f3"}}, "y": {"field": "s", "type": "quantitative", "axis": {"orient": "right", "values": [0.125,0.375,0.625,0.875], "labels": false, "ticks": false, "domain": false, "title": null, "gridColor": "#f3f3f3"}}, "color": {"field": "g", "type": "nominal", "title": null}}},
 {"data": {"name": "pv"}, "transform": [{"filter": "datum.p == 2"}], "mark": {"type": "text", "align": "left", "baseline": "middle", "fontSize": 7.5, "color": "#222"}, "encoding": {"x": {"datum": 0, "axis": null}, "y": {"datum": 0.2, "axis": null}, "text": {"field": "label"}}}
]},
{"title": "CAPARROTTI", "width": 184, "height": 118, "data": {"name": "km"}, "resolve": {"axis": {"x": "independent", "y": "independent"}}, "layer": [
 {"transform": [{"filter": "datum.p == 3"}], "mark": {"type": "line", "interpolate": "step-after", "strokeWidth": 1.2}, "encoding": {"x": {"field": "t", "type": "quantitative", "scale": {"domain": [-0.08, 8.15], "nice": false, "zero": false}, "axis": {"title": "Time Since First Visit after ORN Detected", "values": [0,1,2,3,4,5,6,7,8]}}, "y": {"field": "s", "type": "quantitative", "scale": {"domain": [-0.02, 1.02], "nice": false, "zero": false}, "axis": {"title": "Survival Probability", "values": [0,0.25,0.5,0.75,1], "format": ".0%"}}, "color": {"field": "g", "type": "nominal", "title": null, "scale": {"domain": ["1", "2-4", "Not evaluable"], "range": ["#F8766D", "#00BA38", "#619CFF"]}}}},
 {"transform": [{"filter": "datum.p == 3 && datum.c == 1"}], "mark": {"type": "point", "shape": "M-1,0H1M0,-1V1", "filled": false, "size": 18, "strokeWidth": 0.8, "opacity": 1}, "encoding": {"x": {"field": "t", "type": "quantitative", "axis": {"orient": "top", "values": [0.5,1.5,2.5,3.5,4.5,5.5,6.5,7.5], "labels": false, "ticks": false, "domain": false, "title": null, "gridColor": "#f3f3f3"}}, "y": {"field": "s", "type": "quantitative", "axis": {"orient": "right", "values": [0.125,0.375,0.625,0.875], "labels": false, "ticks": false, "domain": false, "title": null, "gridColor": "#f3f3f3"}}, "color": {"field": "g", "type": "nominal", "title": null}}},
 {"data": {"name": "pv"}, "transform": [{"filter": "datum.p == 3"}], "mark": {"type": "text", "align": "left", "baseline": "middle", "fontSize": 7.5, "color": "#222"}, "encoding": {"x": {"datum": 0, "axis": null}, "y": {"datum": 0.2, "axis": null}, "text": {"field": "label"}}}
]}
]},
{"spacing": 17, "resolve": {"scale": {"color": "independent"}, "legend": {"color": "independent"}}, "hconcat": [
{"title": "CTCAE", "width": 184, "height": 118, "data": {"name": "km"}, "resolve": {"axis": {"x": "independent", "y": "independent"}}, "layer": [
 {"transform": [{"filter": "datum.p == 4"}], "mark": {"type": "line", "interpolate": "step-after", "strokeWidth": 1.2}, "encoding": {"x": {"field": "t", "type": "quantitative", "scale": {"domain": [-0.08, 8.15], "nice": false, "zero": false}, "axis": {"title": "Time Since First Visit after ORN Detected", "values": [0,1,2,3,4,5,6,7,8]}}, "y": {"field": "s", "type": "quantitative", "scale": {"domain": [-0.02, 1.02], "nice": false, "zero": false}, "axis": {"title": "Survival Probability", "values": [0,0.25,0.5,0.75,1], "format": ".0%"}}, "color": {"field": "g", "type": "nominal", "title": null, "scale": {"domain": ["1", "2-3", "Not evaluable"], "range": ["#F8766D", "#00BA38", "#619CFF"]}}}},
 {"transform": [{"filter": "datum.p == 4 && datum.c == 1"}], "mark": {"type": "point", "shape": "M-1,0H1M0,-1V1", "filled": false, "size": 18, "strokeWidth": 0.8, "opacity": 1}, "encoding": {"x": {"field": "t", "type": "quantitative", "axis": {"orient": "top", "values": [0.5,1.5,2.5,3.5,4.5,5.5,6.5,7.5], "labels": false, "ticks": false, "domain": false, "title": null, "gridColor": "#f3f3f3"}}, "y": {"field": "s", "type": "quantitative", "axis": {"orient": "right", "values": [0.125,0.375,0.625,0.875], "labels": false, "ticks": false, "domain": false, "title": null, "gridColor": "#f3f3f3"}}, "color": {"field": "g", "type": "nominal", "title": null}}},
 {"data": {"name": "pv"}, "transform": [{"filter": "datum.p == 4"}], "mark": {"type": "text", "align": "left", "baseline": "middle", "fontSize": 7.5, "color": "#222"}, "encoding": {"x": {"datum": 0, "axis": null}, "y": {"datum": 0.2, "axis": null}, "text": {"field": "label"}}}
]},
{"title": "NOTANI", "width": 184, "height": 118, "data": {"name": "km"}, "resolve": {"axis": {"x": "independent", "y": "independent"}}, "layer": [
 {"transform": [{"filter": "datum.p == 5"}], "mark": {"type": "line", "interpolate": "step-after", "strokeWidth": 1.2}, "encoding": {"x": {"field": "t", "type": "quantitative", "scale": {"domain": [-0.08, 8.15], "nice": false, "zero": false}, "axis": {"title": "Time Since First Visit after ORN Detected", "values": [0,1,2,3,4,5,6,7,8]}}, "y": {"field": "s", "type": "quantitative", "scale": {"domain": [-0.02, 1.02], "nice": false, "zero": false}, "axis": {"title": "Survival Probability", "values": [0,0.25,0.5,0.75,1], "format": ".0%"}}, "color": {"field": "g", "type": "nominal", "title": null, "scale": {"domain": ["1", "2", "3", "Not evaluable"], "range": ["#F8766D", "#7CAE00", "#00BFC4", "#C77CFF"]}}}},
 {"transform": [{"filter": "datum.p == 5 && datum.c == 1"}], "mark": {"type": "point", "shape": "M-1,0H1M0,-1V1", "filled": false, "size": 18, "strokeWidth": 0.8, "opacity": 1}, "encoding": {"x": {"field": "t", "type": "quantitative", "axis": {"orient": "top", "values": [0.5,1.5,2.5,3.5,4.5,5.5,6.5,7.5], "labels": false, "ticks": false, "domain": false, "title": null, "gridColor": "#f3f3f3"}}, "y": {"field": "s", "type": "quantitative", "axis": {"orient": "right", "values": [0.125,0.375,0.625,0.875], "labels": false, "ticks": false, "domain": false, "title": null, "gridColor": "#f3f3f3"}}, "color": {"field": "g", "type": "nominal", "title": null}}},
 {"data": {"name": "pv"}, "transform": [{"filter": "datum.p == 5"}], "mark": {"type": "text", "align": "left", "baseline": "middle", "fontSize": 7.5, "color": "#222"}, "encoding": {"x": {"datum": 0, "axis": null}, "y": {"datum": 0.2, "axis": null}, "text": {"field": "label"}}}
]},
{"title": "CLAYMAN", "width": 184, "height": 118, "data": {"name": "km"}, "resolve": {"axis": {"x": "independent", "y": "independent"}}, "layer": [
 {"transform": [{"filter": "datum.p == 6"}], "mark": {"type": "line", "interpolate": "step-after", "strokeWidth": 1.2}, "encoding": {"x": {"field": "t", "type": "quantitative", "scale": {"domain": [-0.08, 8.15], "nice": false, "zero": false}, "axis": {"title": "Time Since First Visit after ORN Detected", "values": [0,1,2,3,4,5,6,7,8]}}, "y": {"field": "s", "type": "quantitative", "scale": {"domain": [-0.02, 1.02], "nice": false, "zero": false}, "axis": {"title": "Survival Probability", "values": [0,0.25,0.5,0.75,1], "format": ".0%"}}, "color": {"field": "g", "type": "nominal", "title": null, "scale": {"domain": ["1", "2", "Not evaluable"], "range": ["#F8766D", "#00BA38", "#619CFF"]}}}},
 {"transform": [{"filter": "datum.p == 6 && datum.c == 1"}], "mark": {"type": "point", "shape": "M-1,0H1M0,-1V1", "filled": false, "size": 18, "strokeWidth": 0.8, "opacity": 1}, "encoding": {"x": {"field": "t", "type": "quantitative", "axis": {"orient": "top", "values": [0.5,1.5,2.5,3.5,4.5,5.5,6.5,7.5], "labels": false, "ticks": false, "domain": false, "title": null, "gridColor": "#f3f3f3"}}, "y": {"field": "s", "type": "quantitative", "axis": {"orient": "right", "values": [0.125,0.375,0.625,0.875], "labels": false, "ticks": false, "domain": false, "title": null, "gridColor": "#f3f3f3"}}, "color": {"field": "g", "type": "nominal", "title": null}}},
 {"data": {"name": "pv"}, "transform": [{"filter": "datum.p == 6"}], "mark": {"type": "text", "align": "left", "baseline": "middle", "fontSize": 7.5, "color": "#222"}, "encoding": {"x": {"datum": 0, "axis": null}, "y": {"datum": 0.2, "axis": null}, "text": {"field": "label"}}}
]}
]},
{"spacing": 17, "resolve": {"scale": {"color": "independent"}, "legend": {"color": "independent"}}, "hconcat": [
{"title": "SOMA", "width": 184, "height": 118, "data": {"name": "km"}, "resolve": {"axis": {"x": "independent", "y": "independent"}}, "layer": [
 {"transform": [{"filter": "datum.p == 7"}], "mark": {"type": "line", "interpolate": "step-after", "strokeWidth": 1.2}, "encoding": {"x": {"field": "t", "type": "quantitative", "scale": {"domain": [-0.08, 8.15], "nice": false, "zero": false}, "axis": {"title": "Time Since First Visit after ORN Detected", "values": [0,1,2,3,4,5,6,7,8]}}, "y": {"field": "s", "type": "quantitative", "scale": {"domain": [-0.02, 1.02], "nice": false, "zero": false}, "axis": {"title": "Survival Probability", "values": [0,0.25,0.5,0.75,1], "format": ".0%"}}, "color": {"field": "g", "type": "nominal", "title": null, "scale": {"domain": ["1", "2", "3-4", "Not evaluable"], "range": ["#F8766D", "#7CAE00", "#00BFC4", "#C77CFF"]}}}},
 {"transform": [{"filter": "datum.p == 7 && datum.c == 1"}], "mark": {"type": "point", "shape": "M-1,0H1M0,-1V1", "filled": false, "size": 18, "strokeWidth": 0.8, "opacity": 1}, "encoding": {"x": {"field": "t", "type": "quantitative", "axis": {"orient": "top", "values": [0.5,1.5,2.5,3.5,4.5,5.5,6.5,7.5], "labels": false, "ticks": false, "domain": false, "title": null, "gridColor": "#f3f3f3"}}, "y": {"field": "s", "type": "quantitative", "axis": {"orient": "right", "values": [0.125,0.375,0.625,0.875], "labels": false, "ticks": false, "domain": false, "title": null, "gridColor": "#f3f3f3"}}, "color": {"field": "g", "type": "nominal", "title": null}}},
 {"data": {"name": "pv"}, "transform": [{"filter": "datum.p == 7"}], "mark": {"type": "text", "align": "left", "baseline": "middle", "fontSize": 7.5, "color": "#222"}, "encoding": {"x": {"datum": 0, "axis": null}, "y": {"datum": 0.2, "axis": null}, "text": {"field": "label"}}}
]},
{"title": "SHAW", "width": 184, "height": 118, "data": {"name": "km"}, "resolve": {"axis": {"x": "independent", "y": "independent"}}, "layer": [
 {"transform": [{"filter": "datum.p == 8"}], "mark": {"type": "line", "interpolate": "step-after", "strokeWidth": 1.2}, "encoding": {"x": {"field": "t", "type": "quantitative", "scale": {"domain": [-0.08, 8.15], "nice": false, "zero": false}, "axis": {"title": "Time Since First Visit after ORN Detected", "values": [0,1,2,3,4,5,6,7,8]}}, "y": {"field": "s", "type": "quantitative", "scale": {"domain": [-0.02, 1.02], "nice": false, "zero": false}, "axis": {"title": "Survival Probability", "values": [0,0.25,0.5,0.75,1], "format": ".0%"}}, "color": {"field": "g", "type": "nominal", "title": null, "scale": {"domain": ["MBS", "1", "2-3", "Not evaluable"], "range": ["#F8766D", "#7CAE00", "#00BFC4", "#C77CFF"]}}}},
 {"transform": [{"filter": "datum.p == 8 && datum.c == 1"}], "mark": {"type": "point", "shape": "M-1,0H1M0,-1V1", "filled": false, "size": 18, "strokeWidth": 0.8, "opacity": 1}, "encoding": {"x": {"field": "t", "type": "quantitative", "axis": {"orient": "top", "values": [0.5,1.5,2.5,3.5,4.5,5.5,6.5,7.5], "labels": false, "ticks": false, "domain": false, "title": null, "gridColor": "#f3f3f3"}}, "y": {"field": "s", "type": "quantitative", "axis": {"orient": "right", "values": [0.125,0.375,0.625,0.875], "labels": false, "ticks": false, "domain": false, "title": null, "gridColor": "#f3f3f3"}}, "color": {"field": "g", "type": "nominal", "title": null}}},
 {"data": {"name": "pv"}, "transform": [{"filter": "datum.p == 8"}], "mark": {"type": "text", "align": "left", "baseline": "middle", "fontSize": 7.5, "color": "#222"}, "encoding": {"x": {"datum": 0, "axis": null}, "y": {"datum": 0.2, "axis": null}, "text": {"field": "label"}}}
]},
{"title": "STORE", "width": 184, "height": 118, "data": {"name": "km"}, "resolve": {"axis": {"x": "independent", "y": "independent"}}, "layer": [
 {"transform": [{"filter": "datum.p == 9"}], "mark": {"type": "line", "interpolate": "step-after", "strokeWidth": 1.2}, "encoding": {"x": {"field": "t", "type": "quantitative", "scale": {"domain": [-0.08, 8.15], "nice": false, "zero": false}, "axis": {"title": "Time Since First Visit after ORN Detected", "values": [0,1,2,3,4,5,6,7,8]}}, "y": {"field": "s", "type": "quantitative", "scale": {"domain": [-0.02, 1.02], "nice": false, "zero": false}, "axis": {"title": "Survival Probability", "values": [0,0.25,0.5,0.75,1], "format": ".0%"}}, "color": {"field": "g", "type": "nominal", "title": null, "scale": {"domain": ["0", "1", "2-3", "Not evaluable"], "range": ["#F8766D", "#7CAE00", "#00BFC4", "#C77CFF"]}}}},
 {"transform": [{"filter": "datum.p == 9 && datum.c == 1"}], "mark": {"type": "point", "shape": "M-1,0H1M0,-1V1", "filled": false, "size": 18, "strokeWidth": 0.8, "opacity": 1}, "encoding": {"x": {"field": "t", "type": "quantitative", "axis": {"orient": "top", "values": [0.5,1.5,2.5,3.5,4.5,5.5,6.5,7.5], "labels": false, "ticks": false, "domain": false, "title": null, "gridColor": "#f3f3f3"}}, "y": {"field": "s", "type": "quantitative", "axis": {"orient": "right", "values": [0.125,0.375,0.625,0.875], "labels": false, "ticks": false, "domain": false, "title": null, "gridColor": "#f3f3f3"}}, "color": {"field": "g", "type": "nominal", "title": null}}},
 {"data": {"name": "pv"}, "transform": [{"filter": "datum.p == 9"}], "mark": {"type": "text", "align": "left", "baseline": "middle", "fontSize": 7.5, "color": "#222"}, "encoding": {"x": {"datum": 0, "axis": null}, "y": {"datum": 0.2, "axis": null}, "text": {"field": "label"}}}
]}
]}
],
"config": {
 "font": "Liberation Sans",
 "background": "white",
 "view": {"stroke": "#8a8a8a", "strokeWidth": 1},
 "axis": {"grid": true, "gridColor": "#e6e6e6", "gridWidth": 0.7, "domain": false, "tickColor": "#555", "tickSize": 2.5, "labelFontSize": 6, "labelColor": "#4d4d4d", "labelPadding": 1, "labelOverlap": false, "titleFontSize": 8.5, "titleFontWeight": "normal", "titleColor": "#222", "titlePadding": 2},
 "title": {"font": "Open Sans", "fontSize": 10, "fontWeight": 600, "offset": 3, "color": "#222"},
 "legend": {"orient": "bottom", "direction": "horizontal", "layout": {"bottom": {"anchor": "middle"}}, "labelFontSize": 6.5, "labelColor": "#222", "symbolType": "M-1.6,0H1.6M0,-0.9V0.9", "symbolSize": 36, "symbolStrokeWidth": 1.1, "symbolFillColor": "transparent", "offset": 3, "padding": 0, "columnPadding": 6, "labelOffset": 3, "symbolOffset": 0}
}
}
